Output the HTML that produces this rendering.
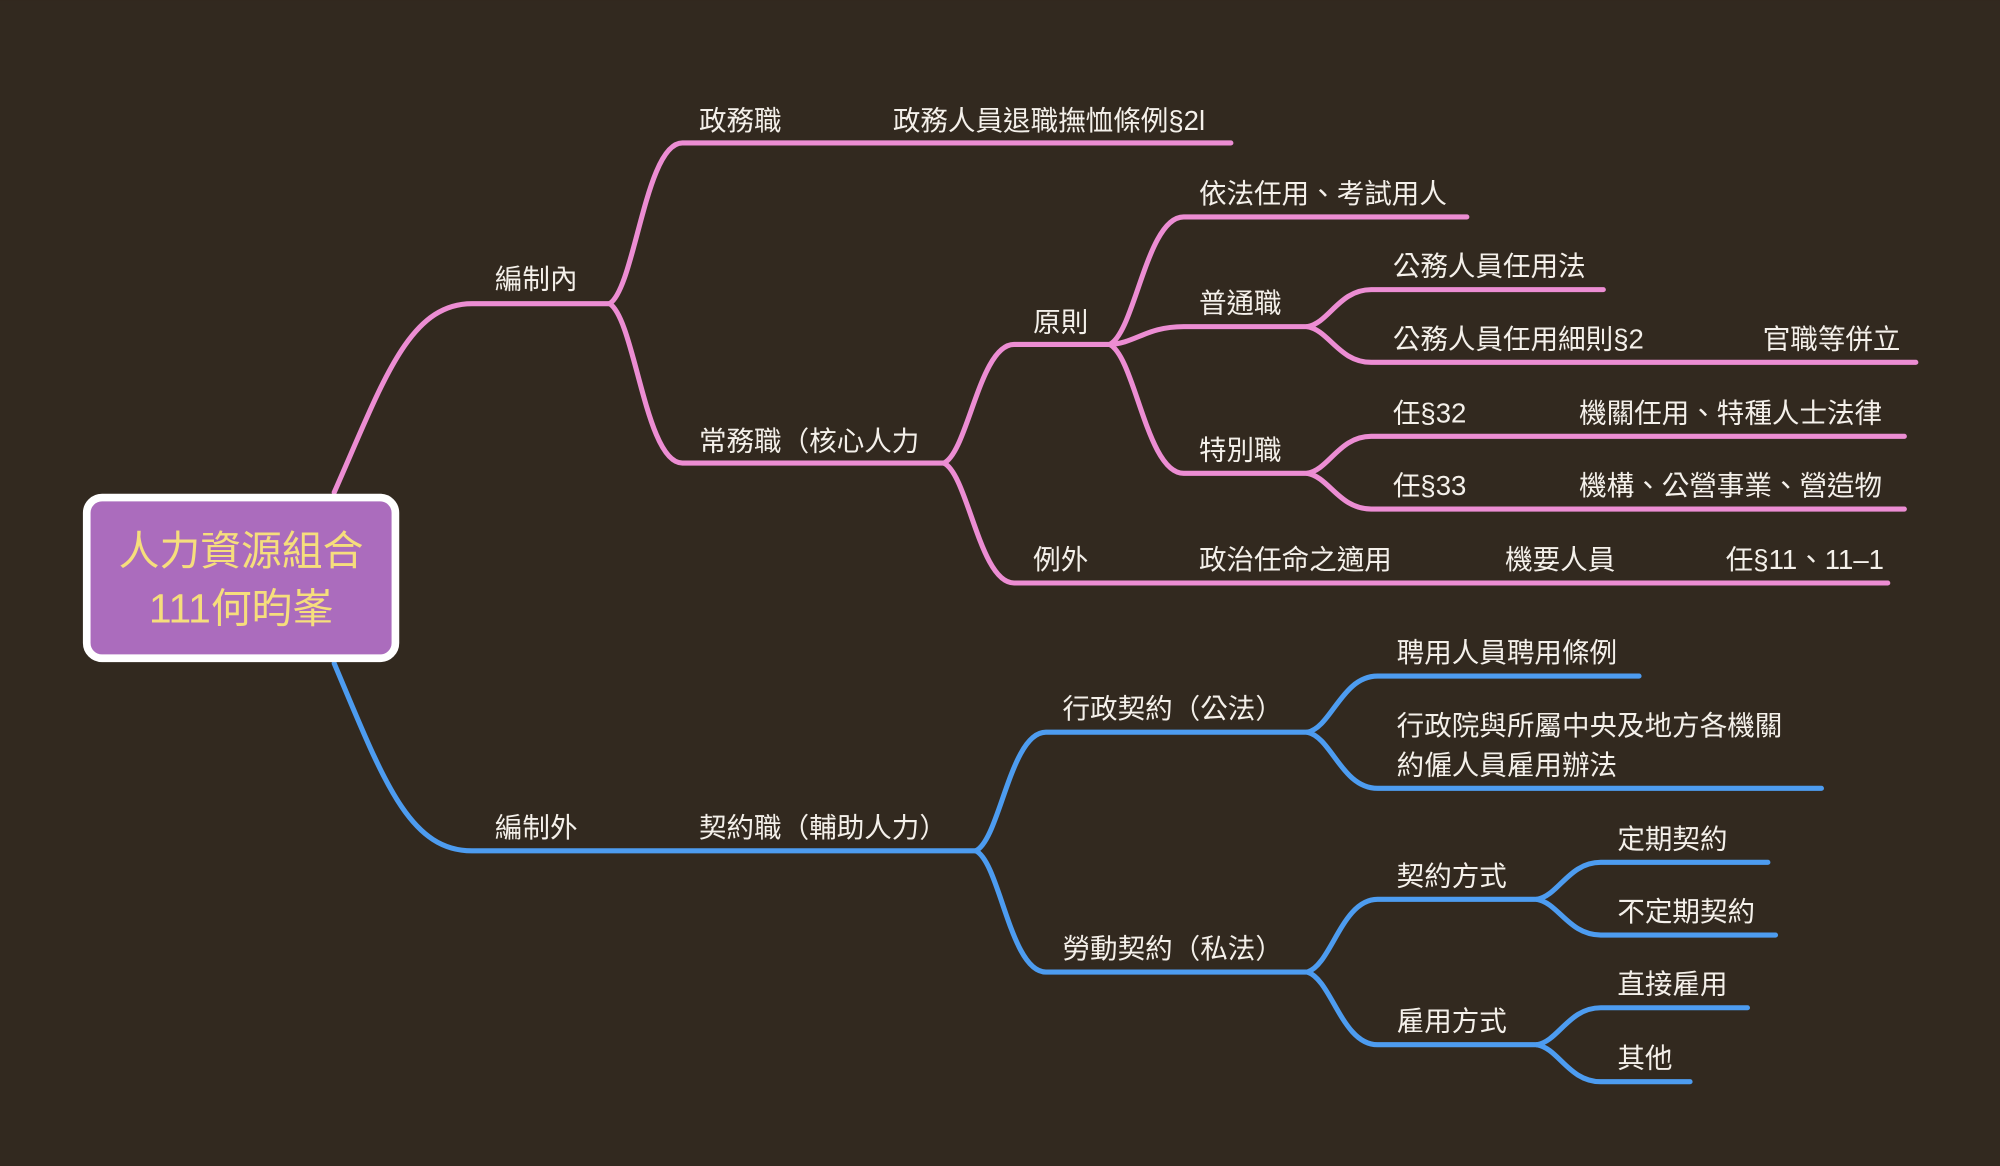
<!DOCTYPE html>
<html><head><meta charset="utf-8"><style>
html,body{margin:0;padding:0;background:#32291f;}
svg{display:block}
text{font-family:"Liberation Sans","Noto Sans CJK TC",sans-serif;font-size:21.6px;fill:#f4f0ea;}
</style></head><body>
<svg width="2000" height="1166" viewBox="0 0 1568 914" xmlns="http://www.w3.org/2000/svg">
<rect width="1568" height="914" fill="#32291f"/>
<g fill="none" stroke="#ec8dd3" stroke-width="4" stroke-linecap="round">
<path d="M262,386 C300,300 320,238 370,238 L478,238"/>
<path d="M478,238 C498,225 506,112 535,112 L965,112"/>
<path d="M478,238 C498,251 506,363 535,363 L740,363"/>
<path d="M740,363 C759,354 768,270 795,270 L870,270"/>
<path d="M740,363 C759,372 768,457 795,457 L1480,457"/>
<path d="M870,270 C890,260 899,170 928,170 L1150,170"/>
<path d="M870,270 C890,269 899,256 928,256 L1025,256"/>
<path d="M870,270 C890,280 899,371 928,371 L1025,371"/>
<path d="M1025,256 C1042,253 1050,227 1075,227 L1257,227"/>
<path d="M1025,256 C1042,259 1050,284 1075,284 L1502,284"/>
<path d="M1025,371 C1042,368 1050,342 1075,342 L1493,342"/>
<path d="M1025,371 C1042,374 1050,399 1075,399 L1493,399"/>
</g>
<g fill="none" stroke="#4d9cf0" stroke-width="4" stroke-linecap="round">
<path d="M262,520 C300,610 320,667 370,667 L765,667"/>
<path d="M765,667 C784,658 792,574 820,574 L1025,574"/>
<path d="M765,667 C784,676 792,762 820,762 L1025,762"/>
<path d="M1025,574 C1044,570 1052,530 1080,530 L1285,530"/>
<path d="M1025,574 C1044,578 1052,618 1080,618 L1428,618"/>
<path d="M1025,762 C1044,756 1052,705 1080,705 L1205,705"/>
<path d="M1025,762 C1044,768 1052,819 1080,819 L1205,819"/>
<path d="M1205,705 C1222,702 1230,676 1255,676 L1386,676"/>
<path d="M1205,705 C1222,708 1230,733 1255,733 L1392,733"/>
<path d="M1205,819 C1222,816 1230,790 1255,790 L1370,790"/>
<path d="M1205,819 C1222,822 1230,848 1255,848 L1325,848"/>
</g>
<rect x="68" y="390" width="242" height="126" rx="12" fill="#ab6cbd" stroke="#ffffff" stroke-width="6"/>
<text x="189" y="443" text-anchor="middle" style="font-size:32px;fill:#f6de7c">人力資源組合</text>
<text x="189" y="488" text-anchor="middle" style="font-size:32px;fill:#f6de7c">111何昀峯</text>

<text x="388" y="226">編制內</text>
<text x="548" y="102">政務職</text>
<text x="700" y="102">政務人員退職撫恤條例§2l</text>
<text x="548" y="353">常務職（核心人力</text>
<text x="810" y="260">原則</text>
<text x="810" y="446">例外</text>
<text x="940" y="446">政治任命之適用</text>
<text x="1180" y="446">機要人員</text>
<text x="1353" y="446">任§11、11–1</text>
<text x="940" y="159">依法任用、考試用人</text>
<text x="940" y="245">普通職</text>
<text x="940" y="360">特別職</text>
<text x="1092" y="216">公務人員任用法</text>
<text x="1092" y="273">公務人員任用細則§2</text>
<text x="1382" y="273">官職等併立</text>
<text x="1092" y="331">任§32</text>
<text x="1238" y="331">機關任用、特種人士法律</text>
<text x="1092" y="388">任§33</text>
<text x="1238" y="388">機構、公營事業、營造物</text>

<text x="388" y="656">編制外</text>
<text x="548" y="656">契約職（輔助人力）</text>
<text x="833" y="563">行政契約（公法）</text>
<text x="833" y="751">勞動契約（私法）</text>
<text x="1095" y="519">聘用人員聘用條例</text>
<text x="1095" y="576">行政院與所屬中央及地方各機關</text>
<text x="1095" y="607">約僱人員雇用辦法</text>
<text x="1095" y="694">契約方式</text>
<text x="1095" y="808">雇用方式</text>
<text x="1268" y="665">定期契約</text>
<text x="1268" y="722">不定期契約</text>
<text x="1268" y="779">直接雇用</text>
<text x="1268" y="837">其他</text>
</svg>
</body></html>
